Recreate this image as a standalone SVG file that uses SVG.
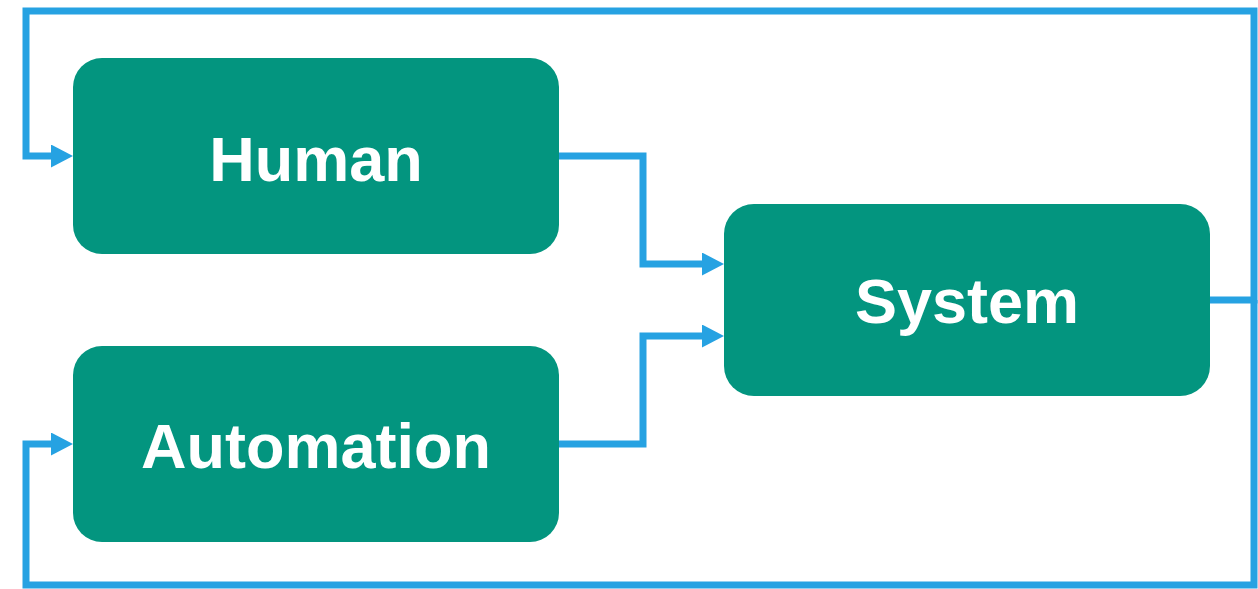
<svg xmlns="http://www.w3.org/2000/svg" width="1258" height="589" viewBox="0 0 1258 589">
  <style>
    .node { fill: #03957F; }
    .label { fill: #FFFFFF; font-family: "Liberation Sans", Arial, sans-serif; font-weight: bold; font-size: 63px; text-anchor: middle; }
    .conn { fill: none; stroke: #26A2E2; stroke-width: 7; stroke-linejoin: miter; stroke-linecap: butt; }
  </style>
  <defs>
    <marker id="arrow" viewBox="0 0 22 23" refX="3" refY="11.5" markerWidth="22" markerHeight="23" markerUnits="userSpaceOnUse" orient="auto">
      <polygon points="0,0 22,11.5 0,23" fill="#26A2E2"/>
    </marker>
  </defs>
  <rect width="1258" height="589" fill="#FFFFFF"/>
  <g id="connectors">
    <path class="conn" d="M559 156 H643 V264 H705" marker-end="url(#arrow)"/>
    <path class="conn" d="M559 444 H643 V336 H705" marker-end="url(#arrow)"/>
    <path class="conn" d="M1210 300 H1254 V11 H26 V156 H54" marker-end="url(#arrow)"/>
    <path class="conn" d="M1254 300 V585 H26 V444 H54" marker-end="url(#arrow)"/>
  </g>
  <g id="human">
    <rect class="node" x="73" y="58" width="486" height="196" rx="29" ry="29"/>
    <text class="label" x="316" y="181">Human</text>
  </g>
  <g id="automation">
    <rect class="node" x="73" y="346" width="486" height="196" rx="29" ry="29"/>
    <text class="label" x="316" y="468">Automation</text>
  </g>
  <g id="system">
    <rect class="node" x="724" y="204" width="486" height="192" rx="30" ry="30"/>
    <text class="label" x="967" y="323">System</text>
  </g>
</svg>
